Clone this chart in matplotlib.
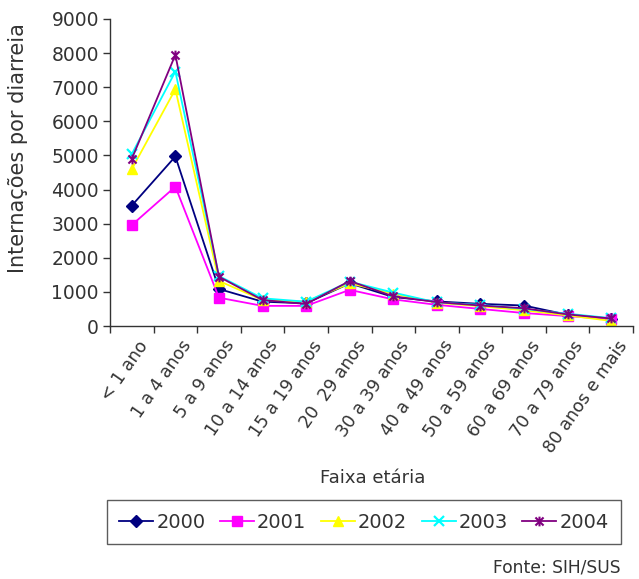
import matplotlib
matplotlib.use("Agg")
import matplotlib.pyplot as plt
import matplotlib.transforms as mtransforms
from matplotlib.path import Path

# Age groups and hospitalisations for diarrhoea per year
faixas = ["< 1 ano", "1 a 4 anos", "5 a 9 anos", "10 a 14 anos", "15 a 19 anos",
          "20  29 anos", "30 a 39 anos", "40 a 49 anos", "50 a 59 anos",
          "60 a 69 anos", "70 a 79 anos", "80 anos e mais"]

v2000 = [3530, 4970, 1085, 713, 665, 1250, 850, 720, 650, 600, 330, 210]
v2001 = [2960, 4085, 830, 590, 590, 1060, 780, 620, 500, 380, 290, 200]
v2002 = [4600, 6940, 1320, 762, 713, 1250, 950, 680, 580, 460, 310, 150]
v2003 = [5040, 7460, 1465, 812, 713, 1300, 980, 690, 620, 500, 360, 230]
v2004 = [4900, 7950, 1445, 762, 645, 1320, 870, 700, 600, 520, 340, 220]

anos = ["2000", "2001", "2002", "2003", "2004"]
series = [v2000, v2001, v2002, v2003, v2004]

TXT = "#333333"
plt.rcParams["font.family"] = ["DejaVu Sans"]

# asterisk marker: an X with a vertical stroke
star = Path([(-1, -1), (1, 1), (-1, 1), (1, -1), (0, -1.2), (0, 1.2)],
            [Path.MOVETO, Path.LINETO, Path.MOVETO, Path.LINETO, Path.MOVETO, Path.LINETO])

styles = [
    dict(color="#000080", marker="D", ms=6, mew=1),
    dict(color="#FF00FF", marker="s", ms=7, mew=1),
    dict(color="#FFFF00", marker="^", ms=7.5, mew=1),
    dict(color="#00FFFF", marker="x", ms=6.5, mew=1.6),
    dict(color="#800080", marker=star, ms=7, mew=1.5),
]

fig = plt.figure(figsize=(6.39, 5.79), dpi=100)
ax = fig.add_axes([110 / 639, 1 - 326 / 579, (633 - 110) / 639, (326 - 19) / 579])

x = list(range(len(faixas)))
for ano, vals, st in zip(anos, series, styles):
    ax.plot(x, vals, color=st["color"], lw=1.3, marker=st["marker"],
            markersize=st["ms"], markeredgewidth=st["mew"],
            markerfacecolor=st["color"], markeredgecolor=st["color"], label=ano)

ax.set_ylim(0, 9000)
ax.set_yticks(range(0, 9001, 1000))
ax.set_xlim(-0.5, len(faixas) - 0.5)
ax.set_xticks([i - 0.5 for i in range(len(faixas) + 1)])
ax.set_xticklabels([])
ax.set_xticks(x, minor=True)
ax.set_xticklabels(faixas, minor=True, rotation=55, ha="right", va="top",
                   rotation_mode="anchor", fontsize=12.5, color=TXT)
ax.tick_params(axis="x", which="minor", length=0, pad=8)
ax.tick_params(axis="both", which="major", direction="out", length=5,
               width=1, color=TXT, labelsize=13.5, labelcolor=TXT)
ax.tick_params(axis="y", pad=3)

offset = mtransforms.ScaledTranslation(5 / 100, 0, fig.dpi_scale_trans)
for lab in ax.get_xticklabels(minor=True):
    lab.set_transform(lab.get_transform() + offset)

for s in ("top", "right"):
    ax.spines[s].set_visible(False)
for s in ("left", "bottom"):
    ax.spines[s].set_color(TXT)
    ax.spines[s].set_linewidth(1)

fig.text(18 / 639, 1 - 148 / 579, "Internações por diarreia", rotation=90,
         ha="center", va="center", fontsize=15, color=TXT)
fig.text(373 / 639, 1 - 478 / 579, "Faixa etária", ha="center", va="center",
         fontsize=13, color=TXT)
fig.text(621 / 639, 1 - 568 / 579, "Fonte: SIH/SUS", ha="right", va="center",
         fontsize=12.3, color=TXT)

leg = fig.legend(loc="center", bbox_to_anchor=(364 / 639, 1 - 522 / 579), ncol=5,
                 fontsize=14, frameon=True, fancybox=False, edgecolor=TXT,
                 handlelength=1.75, handletextpad=0.15, columnspacing=0.75,
                 borderpad=0.65, borderaxespad=0)
leg.get_frame().set_linewidth(1)
for t in leg.get_texts():
    t.set_color(TXT)

fig.savefig("out.png", dpi=100)
